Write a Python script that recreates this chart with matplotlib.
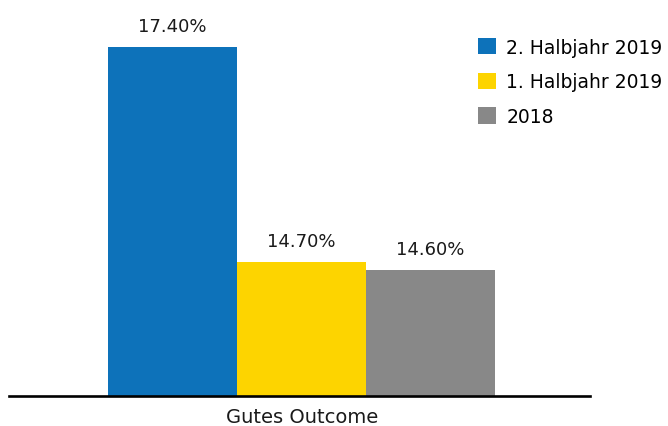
import matplotlib
matplotlib.use("Agg")
import matplotlib.pyplot as plt

categories = ["Gutes Outcome"]
series_names = ["2. Halbjahr 2019", "1. Halbjahr 2019", "2018"]
values = [17.40, 14.70, 14.60]
colors = ["#0D72BA", "#FDD400", "#888888"]

plt.rcParams['font.family'] = ['DejaVu Sans']

W, H = 668, 427
fig = plt.figure(figsize=(W / 100, H / 100), dpi=100)
ax_left, ax_right = 9.3 / W, 590 / W
ax_bottom = (H - 397.3) / H
ax = fig.add_axes([ax_left, ax_bottom, ax_right - ax_left, 1 - ax_bottom])

positions = [0, 1, 2]
bars = []
for pos, val, col, name in zip(positions, values, colors, series_names):
    b = ax.bar(pos, val, width=1.0, color=col, label=name, zorder=1)
    bars.append(b)
    ax.annotate(f"{val:.2f}%", xy=(pos, val), xytext=(0, 11.5), textcoords="offset points",
                ha="center", va="baseline", fontsize=13, color="#1a1a1a")

ax.set_ylim(13.02, 18.0)
ax.set_xlim(-1.267, 3.236)
ax.set_xticks([1])
ax.set_xticklabels(categories, fontsize=14, color="#1a1a1a")
ax.tick_params(axis="x", length=0, pad=8)
ax.set_yticks([])
for s in ["top", "right", "left"]:
    ax.spines[s].set_visible(False)
ax.spines["bottom"].set_linewidth(1.9)
ax.spines["bottom"].set_color("black")
ax.spines["bottom"].set_zorder(3)

fig.legend(handles=[b[0] for b in bars], labels=series_names,
           loc="upper left", bbox_to_anchor=(478 / W, 1 - 38.5 / H),
           frameon=False, fontsize=13.5, handlelength=0.96, handleheight=0.96,
           handletextpad=0.55, labelspacing=0.84, borderpad=0, borderaxespad=0)

fig.savefig("out.png", dpi=100)
